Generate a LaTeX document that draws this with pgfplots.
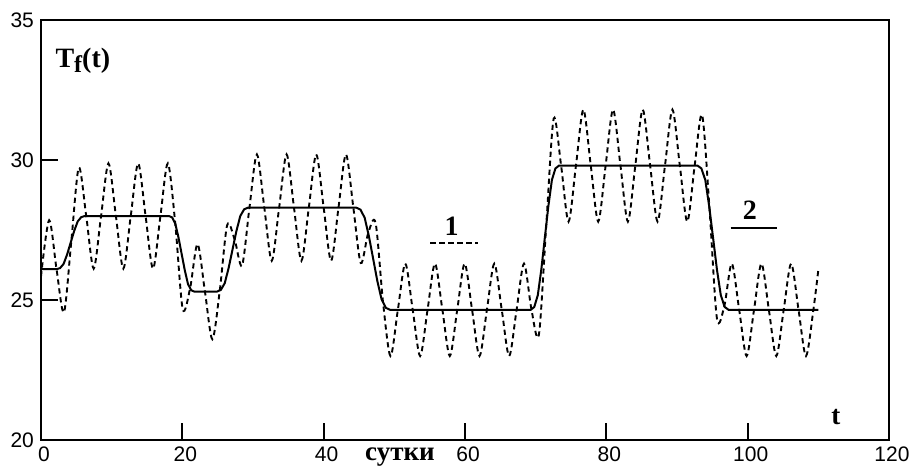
\documentclass[border=0pt]{standalone}
\usepackage{fontspec}
\setmainfont{Liberation Serif}
\newfontfamily\ticksfont{Liberation Sans}
\usepackage{pgfplots}
\pgfplotsset{compat=1.18}

\begin{document}
\begin{tikzpicture}
\useasboundingbox (-20.5pt,-14pt) rectangle (434.5pt,220pt);
\begin{axis}[
    at={(0,0)}, anchor=south west,
    width=424pt, height=210pt, scale only axis,
    xmin=0, xmax=120, ymin=20, ymax=35,
    xtick={0,20,...,120}, ytick={20,25,30,35},
    tick pos=left, tick align=inside,
    major tick length=8.5pt,
    tick style={black, line width=0.9pt},
    axis line style={line width=0.9pt},
    ticklabel style={font=\ticksfont\fontsize{10.5}{12}\selectfont},
    /pgf/number format/assume math mode=true,
    xticklabel style={xshift=1.5pt},
    clip=false,
]
% curve 2: smoothed step (solid)
\addplot[black, line width=1pt] coordinates {
    (0,26.1) (2.2,26.1) (2.7,26.14) (3.2,26.29) (3.7,26.63) (4.2,27.05) (4.7,27.47) (5.2,27.81) (5.7,27.96) (6.2,28.0)
    (18.1,28.0) (18.55,27.95) (19.0,27.73) (19.45,27.24) (19.9,26.65) (20.35,26.06) (20.8,25.57) (21.25,25.35) (21.7,25.3)
    (24.9,25.3) (25.45,25.36) (26.0,25.6) (26.55,26.14) (27.1,26.8) (27.65,27.46) (28.2,28.0) (28.75,28.24) (29.3,28.3)
    (44.6,28.3) (45.2,28.23) (45.8,27.94) (46.4,27.28) (47.0,26.48) (47.6,25.67) (48.2,25.02) (48.8,24.72) (49.4,24.65)
    (69.3,24.65) (69.8,24.75) (70.3,25.17) (70.8,26.09) (71.3,27.23) (71.8,28.36) (72.3,29.29) (72.8,29.7) (73.3,29.8)
    (92.9,29.8) (93.45,29.7) (94.0,29.29) (94.55,28.36) (95.1,27.23) (95.65,26.09) (96.2,25.17) (96.75,24.75) (97.3,24.65)
    (110,24.65)
};
% curve 1: daily oscillation (dashed)
\addplot[black, line width=0.95pt, dash pattern=on 2.6pt off 1.9pt, smooth] coordinates {
    (0,25.84) (1.15,27.85) (2.2,26.1) (3.25,24.56) (4.3,27.13) (5.35,29.73) (6.4,28.0) (7.45,26.12) (8.5,28.0)
    (9.55,29.88) (10.6,28.0) (11.65,26.12) (12.7,28.0) (13.75,29.88) (14.8,28.0) (15.85,26.12) (16.9,28.0)
    (17.95,29.88) (19.0,27.73) (20.05,24.68) (21.1,25.42) (22.15,27.0) (23.2,25.3) (24.25,23.6) (25.3,25.34)
    (26.35,27.68) (27.4,27.16) (28.45,26.23) (29.5,28.3) (30.55,30.2) (31.6,28.3) (32.65,26.4) (33.7,28.3)
    (34.75,30.2) (35.8,28.3) (36.85,26.4) (37.9,28.3) (38.95,30.2) (40.0,28.3) (41.05,26.4) (42.1,28.3)
    (43.15,30.2) (44.2,28.3) (45.25,26.32) (46.3,27.39) (47.35,27.75) (48.4,24.92) (49.45,23.0) (50.5,24.65)
    (51.55,26.3) (52.6,24.65) (53.65,23.0) (54.7,24.65) (55.75,26.3) (56.8,24.65) (57.85,23.0) (58.9,24.65)
    (59.95,26.3) (61.0,24.65) (62.05,23.0) (63.1,24.65) (64.15,26.3) (65.2,24.65) (66.25,23.0) (67.3,24.65)
    (68.35,26.3) (69.4,24.67) (70.45,23.75) (71.5,27.68) (72.55,31.48) (73.6,29.8) (74.65,27.8) (75.7,29.8)
    (76.75,31.8) (77.8,29.8) (78.85,27.8) (79.9,29.8) (80.95,31.8) (82.0,29.8) (83.05,27.8) (84.1,29.8)
    (85.15,31.8) (86.2,29.8) (87.25,27.8) (88.3,29.8) (89.35,31.8) (90.4,29.8) (91.45,27.8) (92.5,29.8)
    (93.55,31.61) (94.6,28.26) (95.65,24.34) (96.7,24.79) (97.75,26.3) (98.8,24.65) (99.85,23.0) (100.9,24.65)
    (101.95,26.3) (103.0,24.65) (104.05,23.0) (105.1,24.65) (106.15,26.3) (107.2,24.65) (108.25,23.0)
    (109.3,24.65) (110,26.08)
};
% labels
\node[anchor=base west, inner sep=0pt, font=\bfseries\fontsize{14}{14}\selectfont] at (axis cs:2,33.32)
    {T\raisebox{-0.45ex}{\fontsize{12}{12}\selectfont f}(t)};
\node[anchor=base west, inner sep=0pt, font=\bfseries\fontsize{13.5}{14}\selectfont] at (axis cs:111.8,20.55) {t};
\node[anchor=base, yshift=-10pt, font=\bfseries\fontsize{13.5}{14}\selectfont] at (axis cs:50.8,20) {сутки};
\node[anchor=base, font=\bfseries\fontsize{14}{14}\selectfont] at (axis cs:58.1,27.32) {1};
\draw[black, line width=0.95pt, dash pattern=on 2.6pt off 1.9pt] (axis cs:55.1,27.03) -- (axis cs:61.8,27.03);
\node[anchor=base, font=\bfseries\fontsize{14}{14}\selectfont] at (axis cs:100.3,27.86) {2};
\draw[black, line width=1pt] (axis cs:97.6,27.58) -- (axis cs:104.2,27.58);
\end{axis}
\end{tikzpicture}
\end{document}
